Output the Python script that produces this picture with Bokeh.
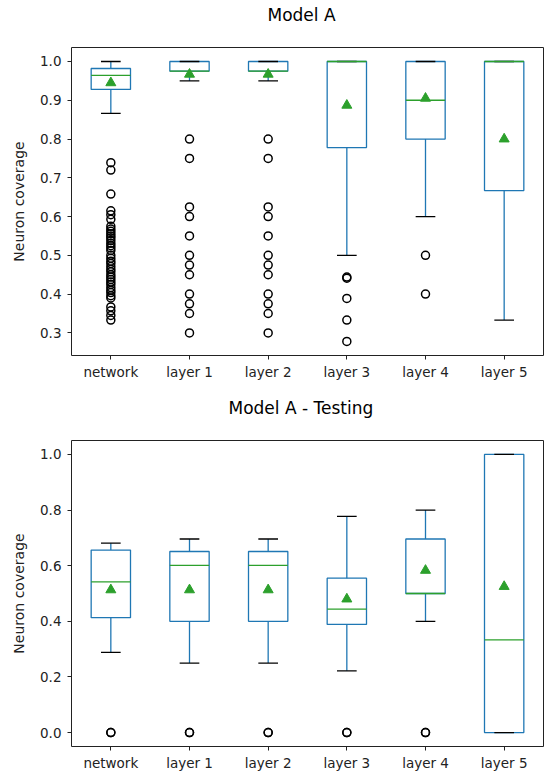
from bokeh.plotting import figure
from bokeh.models import Range1d, FactorRange, FixedTicker, PrintfTickFormatter
from bokeh.layouts import column
from bokeh.embed import file_html
from bokeh.resources import INLINE

# ---------------- data ----------------
categories = ["network", "layer 1", "layer 2", "layer 3", "layer 4", "layer 5"]

# Model A (training)
a_whisker_hi = [1.0, 1.0, 1.0, 1.0, 1.0, 1.0]
a_q3 = [0.982, 1.0, 1.0, 1.0, 1.0, 1.0]
a_median = [0.964, 0.975, 0.975, 1.0, 0.9, 1.0]
a_q1 = [0.928, 0.975, 0.975, 0.778, 0.8, 0.667]
a_whisker_lo = [0.866, 0.95, 0.95, 0.5, 0.6, 0.333]
a_mean = [0.945, 0.967, 0.967, 0.887, 0.905, 0.8]

a_out_network = [0.739, 0.72, 0.658, 0.615, 0.605, 0.593,
                 0.575, 0.568, 0.562, 0.556, 0.55, 0.545, 0.538, 0.531,
                 0.525, 0.519, 0.5125, 0.5, 0.4925, 0.485, 0.479, 0.471,
                 0.464, 0.458, 0.45, 0.444, 0.438, 0.431, 0.425, 0.417,
                 0.41, 0.404, 0.396, 0.39, 0.367, 0.357, 0.345, 0.333]
a_out_layer1 = [0.8, 0.75, 0.625, 0.6, 0.55, 0.5, 0.475, 0.45, 0.4, 0.375, 0.35, 0.3]
a_out_layer2 = [0.8, 0.75, 0.625, 0.6, 0.55, 0.5, 0.475, 0.45, 0.4, 0.375, 0.35, 0.3]
a_out_layer3 = [0.444, 0.441, 0.389, 0.333, 0.278]
a_out_layer4 = [0.5, 0.4]
a_out_layer5 = []

# Model A - Testing
b_whisker_hi = [0.681, 0.696, 0.696, 0.777, 0.8, 1.0]
b_q3 = [0.656, 0.651, 0.651, 0.555, 0.696, 1.0]
b_median = [0.542, 0.601, 0.601, 0.444, 0.5, 0.333]
b_q1 = [0.413, 0.4, 0.4, 0.389, 0.5, 0.0]
b_whisker_lo = [0.288, 0.25, 0.25, 0.222, 0.4, 0.0]
b_mean = [0.513, 0.513, 0.513, 0.48, 0.583, 0.525]

b_out_network = [0.0, 0.0]
b_out_layer1 = [0.0, 0.0]
b_out_layer2 = [0.0, 0.0]
b_out_layer3 = [0.0, 0.0]
b_out_layer4 = [0.0, 0.0]
b_out_layer5 = []

a_ticks = [0.3, 0.4, 0.5, 0.6, 0.7, 0.8, 0.9, 1.0]
b_ticks = [0.0, 0.2, 0.4, 0.6, 0.8, 1.0]

BLUE = "#1f77b4"
GREEN = "#2ca02c"
FONT = "DejaVu Sans"


def make_fig(title, hi, q3, med, q1, lo, mean, outliers, y0, y1, ticks,
             height, b_top, b_bottom, title_offset):
    p = figure(x_range=FactorRange(*categories), y_range=Range1d(y0, y1),
               width=545, height=height, output_backend="svg",
               toolbar_location=None, title=title + "\n ",
               min_border_left=71, min_border_right=2,
               min_border_top=b_top, min_border_bottom=b_bottom)
    p.title.align = "left"
    p.title.offset = title_offset
    p.title.text_font = FONT
    p.title.text_font_size = "17px"
    p.title.text_font_style = "normal"
    p.title.text_color = "black"
    p.title.standoff = 5

    p.xgrid.grid_line_color = None
    p.ygrid.grid_line_color = None
    p.outline_line_color = "#222222"
    p.outline_line_width = 1
    p.background_fill_color = "white"
    p.border_fill_color = "white"

    for ax in (p.xaxis, p.yaxis):
        ax.axis_line_color = None
        ax.major_tick_in = 0
        ax.major_tick_out = 4
        ax.major_tick_line_color = "#222222"
        ax.minor_tick_line_color = None
        ax.major_label_text_font = FONT
        ax.major_label_text_font_size = "13.5px"
        ax.major_label_text_color = "#222222"
    p.xaxis.major_label_standoff = 4
    p.yaxis.major_label_standoff = 6
    p.yaxis.ticker = FixedTicker(ticks=ticks)
    p.yaxis.formatter = PrintfTickFormatter(format="%.1f")
    p.yaxis.axis_label = "Neuron coverage"
    p.yaxis.axis_label_text_font = FONT
    p.yaxis.axis_label_text_font_size = "14px"
    p.yaxis.axis_label_text_font_style = "normal"
    p.yaxis.axis_label_text_color = "#222222"
    p.yaxis.axis_label_standoff = 10

    # boxes
    p.vbar(x=categories, width=0.5, top=q3, bottom=q1,
           fill_color=None, line_color=BLUE, line_width=1.3)
    # whiskers
    p.segment(x0=categories, x1=categories, y0=q3, y1=hi,
              line_color=BLUE, line_width=1.3)
    p.segment(x0=categories, x1=categories, y0=q1, y1=lo,
              line_color=BLUE, line_width=1.3)
    # caps
    left_c = [(c, -0.125) for c in categories]
    right_c = [(c, 0.125) for c in categories]
    p.segment(x0=left_c, x1=right_c, y0=hi, y1=hi, line_color="black", line_width=1.3)
    p.segment(x0=left_c, x1=right_c, y0=lo, y1=lo, line_color="black", line_width=1.3)
    # medians
    left_m = [(c, -0.25) for c in categories]
    right_m = [(c, 0.25) for c in categories]
    p.segment(x0=left_m, x1=right_m, y0=med, y1=med, line_color=GREEN, line_width=1.3)
    # means
    p.scatter(x=categories, y=mean, marker="triangle", size=10,
              fill_color=GREEN, line_color=GREEN)
    # outliers
    ox, oy = [], []
    for c, vals in zip(categories, outliers):
        ox += [c] * len(vals)
        oy += vals
    p.scatter(x=ox, y=oy, marker="circle", size=8, fill_color=None,
              line_color="black", line_width=1.5)
    return p


p1 = make_fig("Model A", a_whisker_hi, a_q3, a_median, a_q1, a_whisker_lo, a_mean,
              [a_out_network, a_out_layer1, a_out_layer2, a_out_layer3,
               a_out_layer4, a_out_layer5],
              0.2417, 1.0361, a_ticks, 392, 47, 37, 196)
p2 = make_fig("Model A - Testing", b_whisker_hi, b_q3, b_median, b_q1, b_whisker_lo, b_mean,
              [b_out_network, b_out_layer1, b_out_layer2, b_out_layer3,
               b_out_layer4, b_out_layer5],
              -0.05, 1.05, b_ticks, 381, 48, 25, 157)

layout = column(p1, p2)
open("out.html", "w").write(file_html(layout, INLINE))
